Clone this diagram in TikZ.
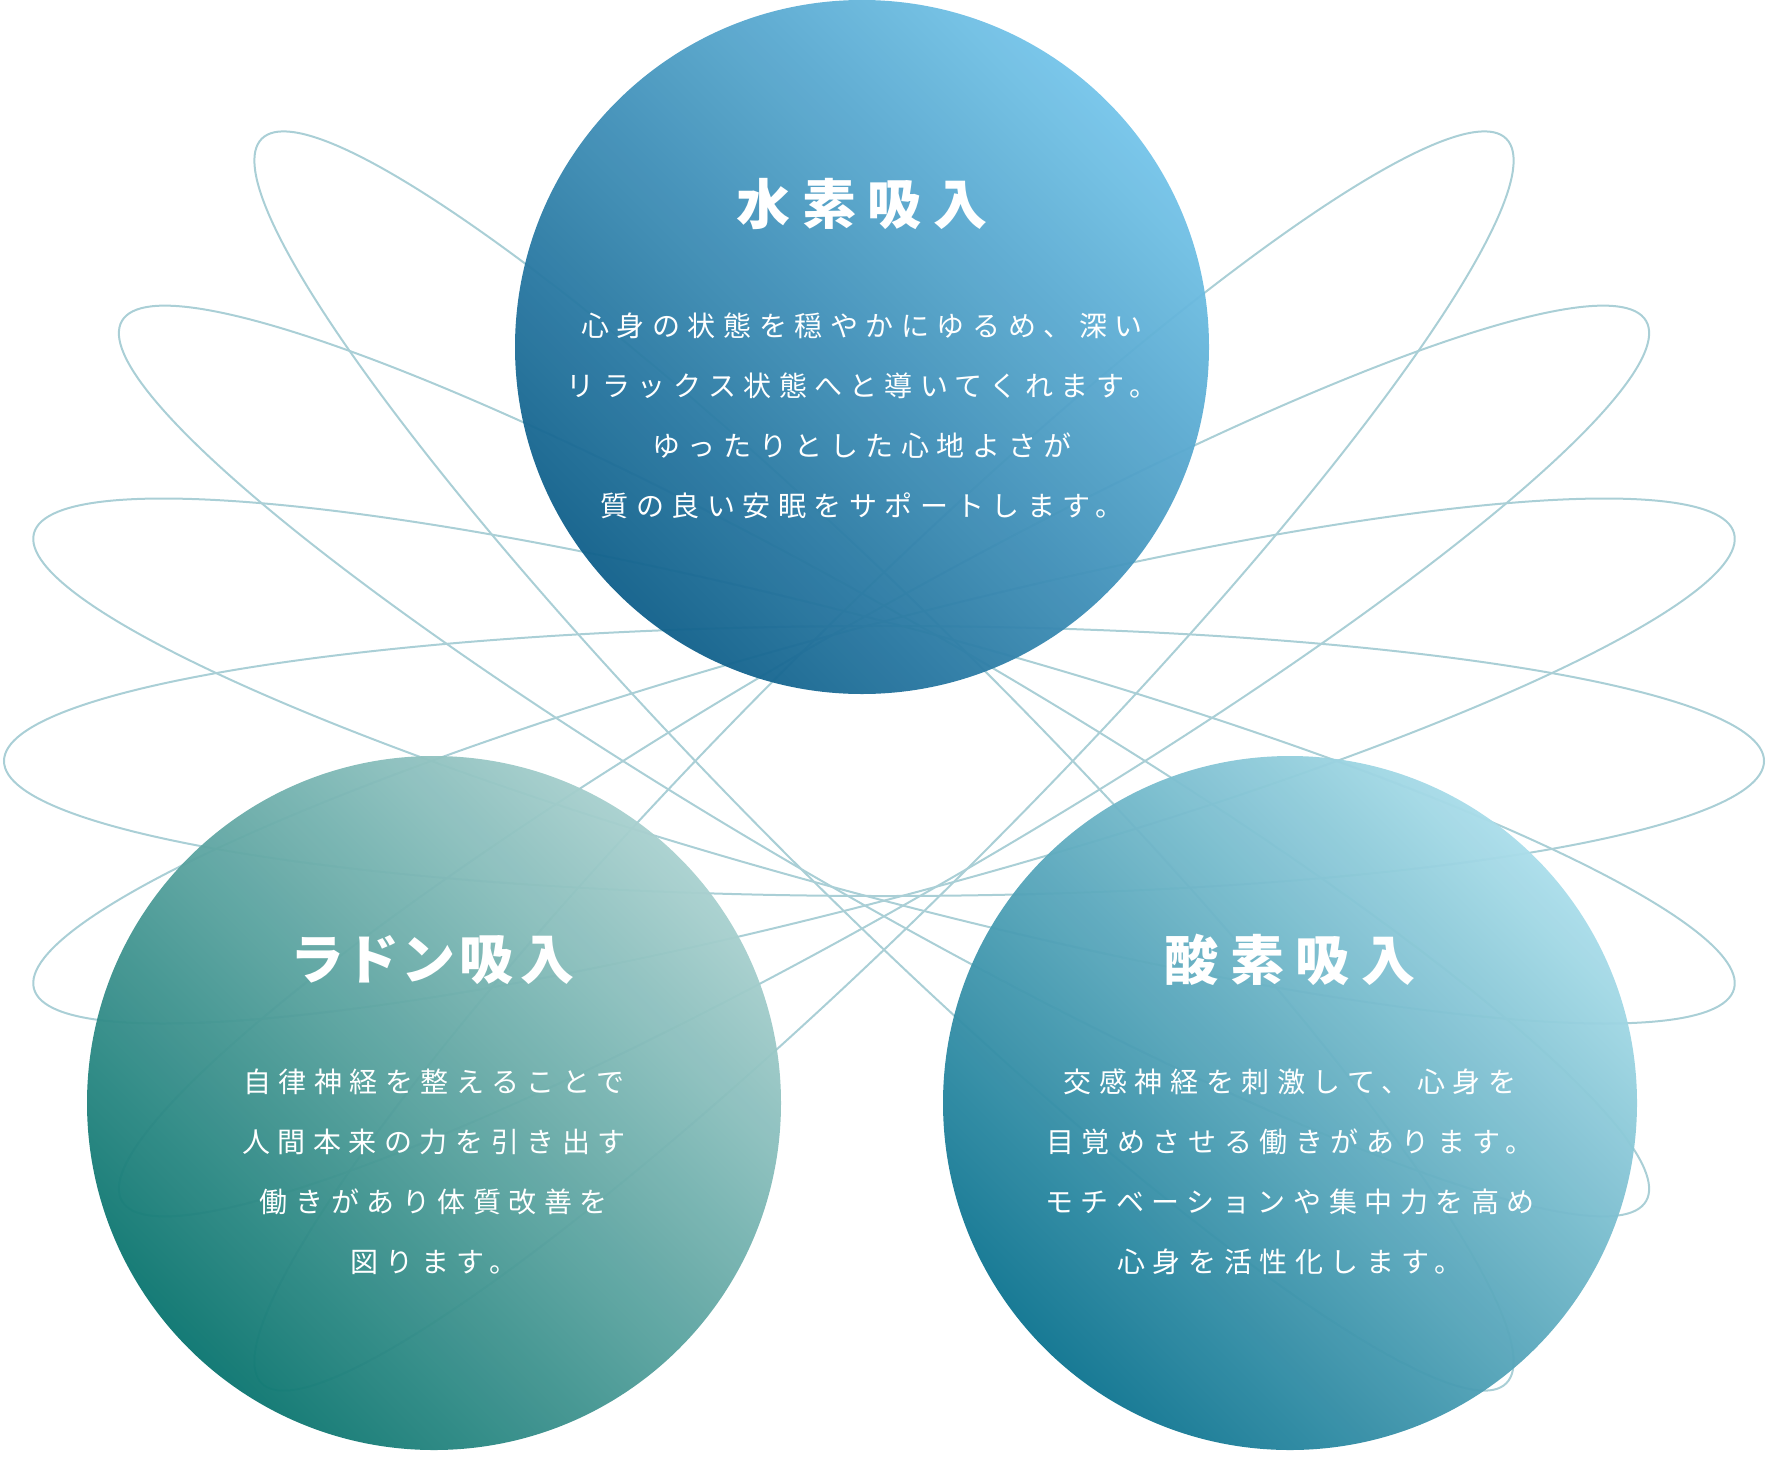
\documentclass[tikz,border=0pt]{standalone}
\usepackage{fontspec}
\usepackage{tikz}
\usetikzlibrary{calc}

\newfontfamily\jptitle[LetterSpace=22,RawFeature=+palt]{Noto Sans CJK JP}
\newfontfamily\jpbody[LetterSpace=27]{Noto Sans CJK JP}

\definecolor{petalline}{HTML}{AACFD6}
\definecolor{hydrodark}{HTML}{0A5984}
\definecolor{hydrolight}{HTML}{7ECDF1}
\definecolor{radondark}{HTML}{006F69}
\definecolor{radonlight}{HTML}{B6D8D7}
\definecolor{oxydark}{HTML}{036D8A}
\definecolor{oxylight}{HTML}{B7E6F1}

\pgfdeclarehorizontalshading{hydroshade}{100bp}{color(0bp)=(hydrodark); color(21bp)=(hydrodark); color(79bp)=(hydrolight); color(100bp)=(hydrolight)}
\pgfdeclarehorizontalshading{radonshade}{100bp}{color(0bp)=(radondark); color(21bp)=(radondark); color(79bp)=(radonlight); color(100bp)=(radonlight)}
\pgfdeclarehorizontalshading{oxyshade}{100bp}{color(0bp)=(oxydark); color(21bp)=(oxydark); color(79bp)=(oxylight); color(100bp)=(oxylight)}

\tikzset{
  petal/.style={draw=petalline, line width=2pt},
  bubble/.style={circle, minimum size=694pt, inner sep=0pt, shading angle=45, opacity=0.96},
  heading/.style={text=white, inner sep=0pt, font=\jptitle\bfseries\fontsize{54}{60}\selectfont},
  blurb/.style={text=white, inner sep=0pt, align=center, font=\jpbody\fontsize{28}{60}\selectfont},
}

\begin{document}
\begin{tikzpicture}[x=1pt,y=-1pt]
\useasboundingbox (0,0) rectangle (1768,1456);
% rosette of thin ellipses behind
\coordinate (hub) at (884,761);
\foreach \tilt in {-45,-30,...,45}
  \draw[petal, rotate around={\tilt:(hub)}] (hub) ellipse [x radius=880pt, y radius=135pt];

% the three bubbles
\node[bubble, shading=hydroshade] (hydro) at (862,347) {};
\node[bubble, shading=radonshade] (radon) at (434,1103) {};
\node[bubble, shading=oxyshade] (oxy) at (1290,1103) {};

% hydrogen
\node[heading] (hydrotitle) at ($(hydro)+(0,-143)$) {水素吸入};
\node[blurb] (hydrotext) at ($(hydro)+(0,69)$) {心身の状態を穏やかにゆるめ、深い\\リラックス状態へと導いてくれます。\\ゆったりとした心地よさが\\質の良い安眠をサポートします。};
% radon
\node[heading] (radontitle) at ($(radon)+(0,-143)$) {\addfontfeatures{LetterSpace=12}ラドン吸入};
\node[blurb] (radontext) at ($(radon)+(0,69)$) {自律神経を整えることで\\人間本来の力を引き出す\\働きがあり体質改善を\\図ります。};
% oxygen
\node[heading] (oxytitle) at ($(oxy)+(0,-143)$) {酸素吸入};
\node[blurb] (oxytext) at ($(oxy)+(0,69)$) {交感神経を刺激して、心身を\\目覚めさせる働きがあります。\\モチベーションや集中力を高め\\心身を活性化します。};
\end{tikzpicture}
\end{document}
